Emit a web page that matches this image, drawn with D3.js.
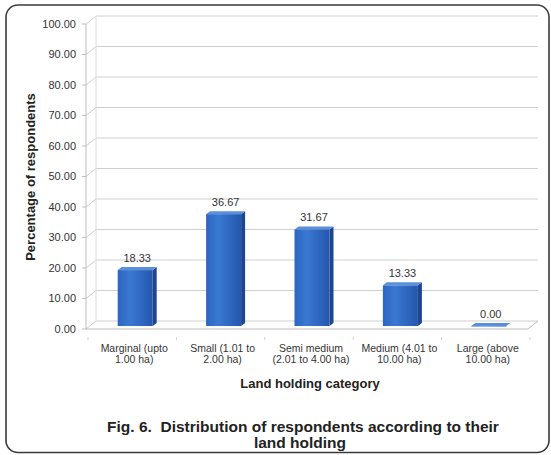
<!DOCTYPE html>
<html>
<head>
<meta charset="utf-8">
<script src="https://cdn.jsdelivr.net/npm/d3@7"></script>
<style>
  body { margin: 0; background: #fff; }
  text { font-family: "Liberation Sans", Arial, sans-serif; }
</style>
</head>
<body>
<svg width="551" height="455"></svg>
<script>
// data
var categories = [
    ["Marginal (upto", "1.00 ha)"],
    ["Small (1.01 to", "2.00 ha)"],
    ["Semi medium", "(2.01 to 4.00 ha)"],
    ["Medium (4.01 to", "10.00 ha)"],
    ["Large (above", "10.00 ha)"]
];
var values = [18.33, 36.67, 31.67, 13.33, 0.00];
var yTicks = [0, 10, 20, 30, 40, 50, 60, 70, 80, 90, 100];

var svg = d3.select("svg");

// 3d offsets: back wall and bar depth
var wallDx = 10, wallDy = -8;
var barDx = 4, barDy = -3, barOff = 3;

var y = d3.scaleLinear().domain([0, 100]).range([329, 24]);
var x = d3.scaleBand().domain(d3.range(categories.length)).range([90, 532]);
var barW = 35;

// frame
svg.append("rect")
    .attr("x", 6).attr("y", 5)
    .attr("width", 543).attr("height", 447.5)
    .attr("rx", 12).attr("ry", 12)
    .attr("fill", "#fff")
    .attr("stroke", "#3a3a3a")
    .attr("stroke-width", 1.6);

var defs = svg.append("defs");
var grad = defs.append("linearGradient").attr("id", "front")
    .attr("x1", "0").attr("x2", "1").attr("y1", "0").attr("y2", "0");
grad.append("stop").attr("offset", "0").attr("stop-color", "#2c65bf");
grad.append("stop").attr("offset", "0.35").attr("stop-color", "#3a79d2");
grad.append("stop").attr("offset", "1").attr("stop-color", "#2456ad");

var x0 = 86, x1 = 528;

// back wall gridlines with the diagonal to the front axis
var grid = svg.append("g").attr("class", "grid");
grid.selectAll("path")
    .data(yTicks)
    .enter().append("path")
    .attr("d", function (d) {
        return "M" + x0 + "," + y(d) + "L" + (x0 + wallDx) + "," + (y(d) + wallDy) +
            "L" + (x1 + wallDx) + "," + (y(d) + wallDy);
    })
    .attr("fill", "none")
    .attr("stroke", "#cfcfcf")
    .attr("stroke-width", 1);

// back wall left edge
svg.append("line")
    .attr("x1", x0 + wallDx).attr("y1", y(100) + wallDy)
    .attr("x2", x0 + wallDx).attr("y2", y(0) + wallDy)
    .attr("stroke", "#dcdcdc");

// floor
svg.append("path")
    .attr("d", "M" + x0 + "," + y(0) + "L" + x1 + "," + y(0) +
        "L" + (x1 + wallDx) + "," + (y(0) + wallDy))
    .attr("fill", "none")
    .attr("stroke", "#bdbdbd");

// y axis line and ticks
svg.append("line")
    .attr("x1", x0).attr("y1", y(0))
    .attr("x2", x0).attr("y2", y(100))
    .attr("stroke", "#bdbdbd");

var yAxis = svg.append("g");
yAxis.selectAll("line")
    .data(yTicks)
    .enter().append("line")
    .attr("x1", x0 - 4).attr("x2", x0)
    .attr("y1", function (d) { return y(d); })
    .attr("y2", function (d) { return y(d); })
    .attr("stroke", "#bdbdbd");

yAxis.selectAll("text")
    .data(yTicks)
    .enter().append("text")
    .attr("x", 76)
    .attr("y", function (d) { return y(d); })
    .attr("dy", "0.35em")
    .attr("text-anchor", "end")
    .attr("font-size", "11px")
    .attr("fill", "#333")
    .text(function (d) { return d.toFixed(2); });

// category tick marks
svg.append("g").selectAll("line")
    .data(d3.range(categories.length + 1))
    .enter().append("line")
    .attr("x1", function (d) { return 88 + d * x.bandwidth(); })
    .attr("x2", function (d) { return 88 + d * x.bandwidth(); })
    .attr("y1", y(0) + 8).attr("y2", y(0) + 11)
    .attr("stroke", "#cfcfcf");

// bars
var bars = svg.append("g").selectAll("g")
    .data(values)
    .enter().append("g")
    .attr("transform", function (d, i) {
        var bx = x(i) + (x.bandwidth() - barW) / 2 - 2;
        return "translate(" + (bx + barOff) + "," + (-barOff) + ")";
    });

bars.append("path")
    .attr("d", function (d) {
        var t = y(d), b = y(0);
        return "M" + barW + "," + b + "L" + (barW + barDx) + "," + (b + barDy) +
            "L" + (barW + barDx) + "," + (t + barDy) + "L" + barW + "," + t + "Z";
    })
    .attr("fill", "#1d4690");

bars.append("path")
    .attr("d", function (d) {
        var t = y(d);
        return "M0," + t + "L" + barDx + "," + (t + barDy) +
            "L" + (barW + barDx) + "," + (t + barDy) + "L" + barW + "," + t + "Z";
    })
    .attr("fill", "#5a8fdc");

bars.append("rect")
    .attr("x", 0)
    .attr("y", function (d) { return y(d); })
    .attr("width", barW)
    .attr("height", function (d) { return Math.max(y(0) - y(d), 0.5); })
    .attr("fill", "url(#front)");

bars.append("text")
    .attr("x", barW / 2 + 2)
    .attr("y", function (d) { return y(d) - 8; })
    .attr("text-anchor", "middle")
    .attr("font-size", "11px")
    .attr("fill", "#333")
    .text(function (d) { return d.toFixed(2); });

// category labels
var cat = svg.append("g").selectAll("text")
    .data(categories)
    .enter().append("text")
    .attr("text-anchor", "middle")
    .attr("font-size", "10.5px")
    .attr("fill", "#333");

cat.append("tspan")
    .attr("x", function (d, i) { return x(i) + x.bandwidth() / 2; })
    .attr("y", 351.5)
    .text(function (d) { return d[0]; });
cat.append("tspan")
    .attr("x", function (d, i) { return x(i) + x.bandwidth() / 2; })
    .attr("y", 362.5)
    .text(function (d) { return d[1]; });

// axis titles
svg.append("text")
    .attr("x", 310).attr("y", 388)
    .attr("text-anchor", "middle")
    .attr("font-size", "13px")
    .attr("font-weight", "bold")
    .attr("fill", "#222")
    .text("Land holding category");

svg.append("text")
    .attr("transform", "translate(35,177) rotate(-90)")
    .attr("text-anchor", "middle")
    .attr("font-size", "13px")
    .attr("font-weight", "bold")
    .attr("fill", "#222")
    .text("Percentage of respondents");

// caption
svg.append("text")
    .attr("x", 303).attr("y", 432)
    .attr("text-anchor", "middle")
    .attr("font-size", "15.5px")
    .attr("font-weight", "bold")
    .attr("fill", "#222")
    .attr("xml:space", "preserve")
    .text("Fig. 6.  Distribution of respondents according to their");

svg.append("text")
    .attr("x", 300).attr("y", 448)
    .attr("text-anchor", "middle")
    .attr("font-size", "15.5px")
    .attr("font-weight", "bold")
    .attr("fill", "#222")
    .text("land holding");
</script>
</body>
</html>
